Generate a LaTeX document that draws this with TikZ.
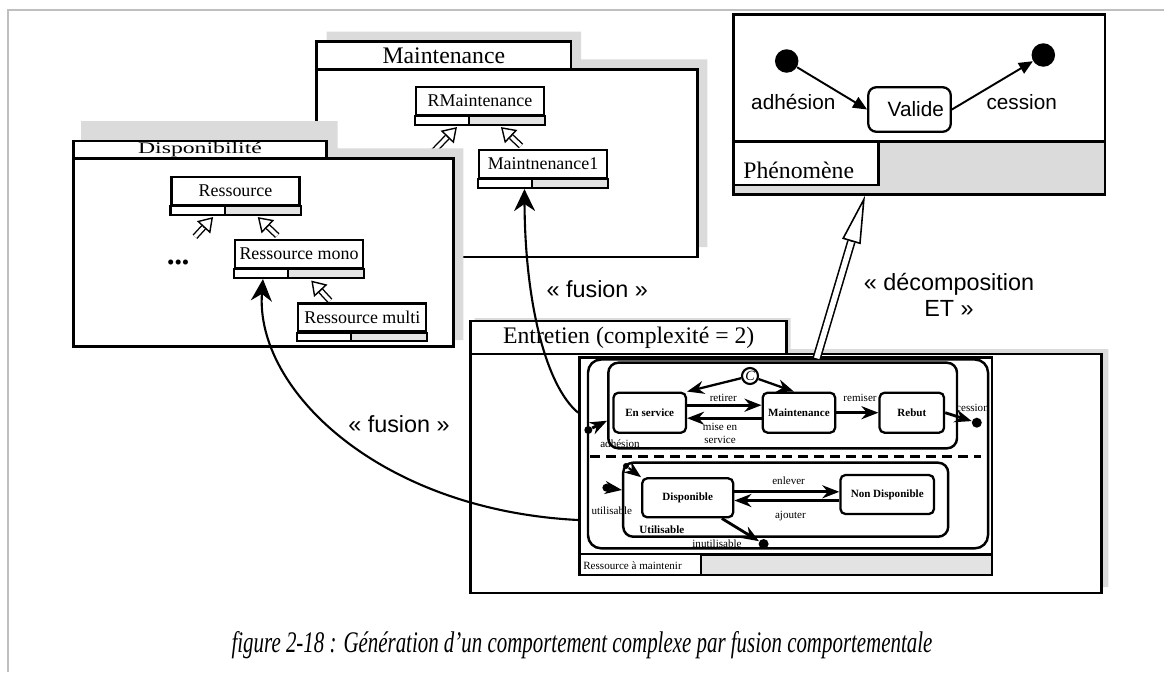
\documentclass[tikz,border=0pt]{standalone}
\usepackage{graphicx}
\usepackage{fontspec}
\setmainfont{Liberation Serif}
\setsansfont{Liberation Sans}
\usetikzlibrary{arrows.meta,calc,fit}

\definecolor{shadowgray}{gray}{0.86}
\definecolor{stripe}{gray}{0.89}
\definecolor{framegray}{gray}{0.75}

\begin{document}
\begin{tikzpicture}[x=0.2mm, y=-0.2mm,
    box/.style={draw, line width=1.4pt, fill=white, inner sep=0pt},
    pkgtitle/.style={inner sep=0pt, font=\fontsize{13.5}{15}\selectfont},
    cls/.style={box, line width=1.2pt, minimum width=25.6mm, minimum height=5.6mm, font=\fontsize{10.2}{12}\selectfont},
    strip/.style={draw, line width=1.2pt},
    gen/.style={double, double distance=0.7mm, line width=0.8pt, shorten >=2.8mm},
    genhead/.style={line width=0.8pt, -{Triangle[open, fill=white, length=2.8mm, width=3.6mm]}},
    bigdot/.style={circle, fill, inner sep=0pt, minimum size=4.7mm},
    pdot/.style={circle, fill, inner sep=0pt, minimum size=1.8mm},
    phstate/.style={draw, line width=1.3pt, rounded corners=1.6mm, inner sep=0pt, font=\sffamily\fontsize{11.8}{14}\selectfont},
    phlabel/.style={inner sep=0pt, font=\sffamily\fontsize{11.8}{14}\selectfont},
    phtrans/.style={line width=1.1pt, -{Triangle[length=2.8mm, width=2.4mm]}},
    region/.style={draw, line width=1.4pt, rounded corners=2.6mm, fill=white, inner sep=0pt},
    stbox/.style={draw, line width=1.3pt, rounded corners=1mm, fill=white, inner sep=0pt, font=\bfseries\fontsize{6.3}{7.5}\selectfont},
    tr/.style={line width=1.6pt, -{Stealth[length=3.4mm, width=2.6mm]}},
    trlabel/.style={inner sep=0pt, font=\fontsize{6.3}{7.5}\selectfont},
    fusion/.style={line width=1.2pt, -{Stealth[length=4.4mm, width=4.2mm]}},
    fusionlabel/.style={inner sep=0pt, font=\sffamily\fontsize{13.3}{15}\selectfont}
]
\useasboundingbox (0,0) rectangle (1164,672);
\draw[framegray, line width=1pt] (8,672) -- (8,10) -- (1164,10);

% Maintenance
\fill[shadowgray] (326.7,31.7) -- (581,31.7) -- (581,59.3) -- (707.3,59.3) -- (707.3,247) -- (326.7,247) -- cycle;
\node[box, fit={(316.7,69.3) (697.3,257)}] (maint) {};
\node[box, fit={(316.7,41.7) (571,69.3)}] (maint-tab) {};
\node[pkgtitle] (maint-title) at (maint-tab) {Maintenance};

\node[cls] (rmaint) at (480,101) {RMaintenance};
\draw[strip, fill=white] (rmaint.south west) rectangle ++(54,8.5);
\draw[strip, fill=stripe] (rmaint.south west) ++(54,0) rectangle ($(rmaint.south east)+(0,8.5)$);
\node[cls] (maint1) at (543,164) {Maintnenance1};
\draw[strip, fill=white] (maint1.south west) rectangle ++(54,8.5);
\draw[strip, fill=stripe] (maint1.south west) ++(54,0) rectangle ($(maint1.south east)+(0,8.5)$);

\coordinate (rmaint-in) at (428,157);
\coordinate (rmaint-g1) at ($(rmaint.south west)+(42,11)$);
\coordinate (rmaint-g2) at ($(rmaint.south west)+(86,11)$);
\coordinate (maint1-up) at ($(maint1.north west)+(43,-3)$);
\draw[gen] (rmaint-in) -- (rmaint-g1);
\draw[genhead] ($(rmaint-g1)!2.8mm!(rmaint-in)$) -- (rmaint-g1);
\draw[gen] (maint1-up) -- (rmaint-g2);
\draw[genhead] ($(rmaint-g2)!2.8mm!(maint1-up)$) -- (rmaint-g2);

% Disponibilite
\fill[shadowgray] (81,121) -- (337.7,121) -- (337.7,148.3) -- (463.3,148.3) -- (463.3,340) -- (81,340) -- cycle;
\node[box, fit={(73.3,158.3) (453.3,346.7)}] (dispo) {};
\node[box, fit={(73.3,141) (326.7,158.3)}] (dispo-tab) {};
\node[pkgtitle] (dispo-title) at (dispo-tab) {\scalebox{1}[0.68]{Disponibilité}};

\node[cls] (ress) at (235.5,191) {Ressource};
\draw[strip, fill=white] (ress.south west) rectangle ++(54.3,9);
\draw[strip, fill=stripe] (ress.south west) ++(54.3,0) rectangle ($(ress.south east)+(0,9)$);
\node[cls] (rmono) at (299,254) {Ressource mono};
\draw[strip, fill=white] (rmono.south west) rectangle ++(54.3,9);
\draw[strip, fill=stripe] (rmono.south west) ++(54.3,0) rectangle ($(rmono.south east)+(0,9)$);
\node[cls] (rmulti) at (362.3,317.5) {Ressource multi};
\draw[strip, fill=white] (rmulti.south west) rectangle ++(53.7,8.5);
\draw[strip, fill=stripe] (rmulti.south west) ++(53.7,0) rectangle ($(rmulti.south east)+(0,8.5)$);
\node[inner sep=0pt, font=\fontsize{12}{12}\selectfont] (others) at (178.3,265) {•••};

\coordinate (others-up) at (195,236.7);
\coordinate (ress-g1) at ($(ress.south west)+(42.6,11)$);
\coordinate (ress-g2) at ($(ress.south west)+(87.3,11)$);
\coordinate (rmono-up) at ($(rmono.north west)+(43.3,-3.3)$);
\coordinate (rmono-g) at ($(rmono.south west)+(77.3,11.5)$);
\coordinate (rmulti-up) at ($(rmulti.north west)+(32.7,-1.7)$);
\draw[gen] (others-up) -- (ress-g1);
\draw[genhead] ($(ress-g1)!2.8mm!(others-up)$) -- (ress-g1);
\draw[gen] (rmono-up) -- (ress-g2);
\draw[genhead] ($(ress-g2)!2.8mm!(rmono-up)$) -- (ress-g2);
\draw[gen] (rmulti-up) -- (rmono-g);
\draw[genhead] ($(rmono-g)!2.8mm!(rmulti-up)$) -- (rmono-g);

% Phenomene
\node[box, fit={(733.3,14.3) (1105,194.3)}] (phen) {};
\filldraw[fill=shadowgray, line width=1.4pt] (733.3,141.7) rectangle (1105,194.3);
\node[box, fit={(733.3,141.7) (878.3,185)}] (phen-tab) {};
\node[pkgtitle, anchor=west] (phen-title) at (743,170) {Phénomène};

\node[bigdot] (ph-init) at (786.7,61) {};
\node[bigdot] (ph-final) at (1043.3,55) {};
\node[phstate, minimum width=16.5mm, minimum height=8.9mm] (valide) at (909.5,109.5) {\hspace{2.5mm}Valide};
\draw[phtrans] (ph-init) -- (valide.west);
\draw[phtrans] (valide.east) -- (ph-final);
\node[phlabel] (ph-adh) at (793.3,101.7) {adhésion};
\node[phlabel] (ph-cess) at (1021.7,101.7) {cession};

% Entretien
\fill[shadowgray] (474.7,318) -- (790.7,318) -- (790.7,349) -- (1108.3,349) -- (1108.3,587) -- (477,587) -- cycle;
\node[box, fit={(470.7,354) (1101.7,593)}] (entr) {};
\node[box, fit={(470.7,321) (786.7,354)}] (entr-tab) {};
\node[pkgtitle] (entr-title) at (entr-tab) {Entretien (complexité = 2)};

\node[box, line width=1.6pt, fit={(579.5,357.5) (992,575)}] (resm) {};
\filldraw[fill=stripe, line width=1.4pt] (579.5,554.3) rectangle (992,575);
\node[box, line width=1.2pt, fit={(579.5,554.3) (701,575)}] (resm-tab) {};
\node[trlabel, anchor=west] (resm-title) at (583,566) {Ressource à maintenir};

\node[region, fit={(588,359.5) (988,548.3)}] (comp) {};
\node[region, rounded corners=2mm, fit={(608.3,362.7) (957,448.3)}] (upper) {};
\draw[line width=1.7pt, dash pattern=on 1.9mm off 1.3mm] (590,456) -- (981.4,456);
\node[region, rounded corners=2mm, fit={(623.2,462.7) (948.2,536.7)}] (util) {};
\node[trlabel, font=\bfseries\fontsize{6.3}{7.5}\selectfont] (util-name) at (661.8,529.3) {Utilisable};

\node[stbox, minimum width=14.5mm, minimum height=8mm] (enserv) at (649.7,412.7) {En service};
\node[stbox, minimum width=14.5mm, minimum height=8mm] (maintst) at (798.9,412.7) {Maintenance};
\node[stbox, minimum width=12.9mm, minimum height=8mm] (rebut) at (911.8,412.7) {Rebut};
\node[stbox, minimum width=18.2mm, minimum height=7.8mm] (dispo-st) at (687.7,497.8) {Disponible};
\node[stbox, minimum width=18.7mm, minimum height=7.8mm] (nondispo) at (887.2,494.5) {Non Disponible};

\node[circle, draw, line width=1.2pt, fill=white, minimum size=3.2mm, inner sep=0pt,
      font=\itshape\fontsize{8}{8}\selectfont] (choice) at (750,376) {C};
\node[pdot, minimum size=1.6mm] (ini1) at (588.3,430) {};
\node[pdot, minimum size=2mm] (fin1) at (976.8,422.7) {};
\node[pdot, minimum size=1.6mm] (ini2) at (606.4,487.7) {};
\node[pdot, minimum size=1.2mm] (ini3) at (626,466) {};
\node[pdot, minimum size=2mm] (fin2) at (763.6,544) {};

\draw[tr] ([yshift=1.5mm]enserv.east) -- ([yshift=1.5mm]enserv.east -| maintst.west);
\draw[tr] ([yshift=-1.1mm]maintst.west) -- ([yshift=-1.1mm]maintst.west -| enserv.east);
\draw[tr] (maintst) -- (rebut);
\draw[tr] (rebut.east) -- (fin1);
\draw[tr] (ini1) -- (upper.west |- 0,420.7);
\draw[tr, line width=1.3pt] (choice) -- (enserv.north east);
\draw[tr, line width=1.3pt] (choice) -- ([xshift=-1mm]maintst.north);
\draw[tr] ([yshift=1.2mm]dispo-st.east) -- ([yshift=1.2mm]dispo-st.east -| nondispo.west);
\draw[tr] ([yshift=-1.2mm]nondispo.west) -- ([yshift=-1.2mm]nondispo.west -| dispo-st.east);
\draw[tr] (ini2) -- (util.west |- 0,490);
\draw[tr, line width=1.2pt] (ini3) -- (dispo-st.north west);
\draw[tr] ([xshift=-2.5mm]dispo-st.south east) -- (fin2);

\node[trlabel] (l-retirer) at (723.3,398.3) {retirer};
\node[trlabel, align=center] (l-mise) at (720,433) {mise en\\service};
\node[trlabel] (l-remiser) at (860,398.3) {remiser};
\node[trlabel] (l-cession) at (972.5,408.3) {cession};
\node[trlabel] (l-adhesion) at (620,443.3) {adhésion};
\node[trlabel] (l-enlever) at (788.6,480.7) {enlever};
\node[trlabel] (l-ajouter) at (790.4,516) {ajouter};
\node[trlabel] (l-util) at (611.8,511) {utilisable};
\node[trlabel] (l-inutil) at (717,543.3) {inutilisable};

% fusions et decomposition
\draw[fusion] (resm.west |- enserv) .. controls (545,385) and (525,300) .. ($(maint1.south west)+(46.5,10)$);
\draw[fusion] (resm.west |- 0,520) .. controls (380,510) and (255,390) .. ($(rmono.south west)+(29,10)$);

\coordinate (dec-from) at (comp.north -| 816.7,0);
\coordinate (dec-to) at (phen.south -| 865,0);
\draw[double, double distance=1.1mm, line width=0.9pt, shorten >=9.6mm] (dec-from) -- (dec-to);
\draw[line width=0.9pt, -{Triangle[open, fill=white, length=9.6mm, width=3.8mm]}] ($(dec-to)!9.6mm!(dec-from)$) -- (dec-to);

\node[fusionlabel] (fus-up) at (597.3,289) {« fusion »};
\node[fusionlabel] (fus-low) at (399,424) {« fusion »};
\node[fusionlabel, align=center] (dec-label) at (949,295) {« décomposition\\ET »};

\node[inner sep=0pt, font=\itshape\fontsize{17}{20}\selectfont] (caption) at (582,645)
  {\scalebox{0.7}[1]{figure 2-18 : Génération d’un comportement complexe par fusion comportementale}};
\end{tikzpicture}
\end{document}
